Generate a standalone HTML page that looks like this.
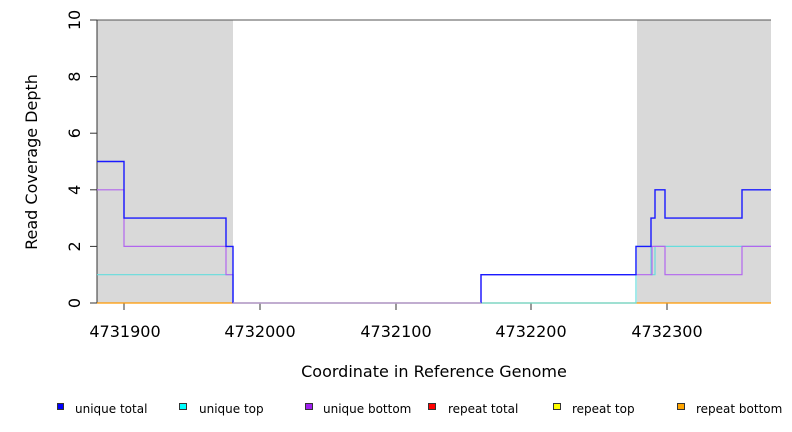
<!DOCTYPE html><html><head><style>body{margin:0;background:#fff}svg{display:block}text{font-family:"DejaVu Sans","Liberation Sans",sans-serif}</style></head><body>
<svg width="792" height="432" viewBox="0 0 792 432">
<rect x="97" y="20" width="136" height="283" fill="#d9d9d9"/>
<rect x="637" y="20" width="134" height="283" fill="#d9d9d9"/>
<line x1="97" y1="20" x2="771" y2="20" stroke="#555" stroke-width="1"/>
<line x1="97" y1="20" x2="97" y2="303" stroke="#333" stroke-width="1"/>
<g stroke="#333" stroke-width="1">
<line x1="90" y1="303" x2="97" y2="303"/><line x1="90" y1="246.4" x2="97" y2="246.4"/><line x1="90" y1="189.8" x2="97" y2="189.8"/><line x1="90" y1="133.2" x2="97" y2="133.2"/><line x1="90" y1="76.6" x2="97" y2="76.6"/><line x1="90" y1="20" x2="97" y2="20"/>
<line x1="124" y1="303" x2="124" y2="310"/><line x1="260" y1="303" x2="260" y2="310"/><line x1="396" y1="303" x2="396" y2="310"/><line x1="531" y1="303" x2="531" y2="310"/><line x1="667" y1="303" x2="667" y2="310"/>
</g>
<g font-size="16" text-anchor="middle">
<text transform="translate(75,303) rotate(-90)" y="5">0</text>
<text transform="translate(75,246.4) rotate(-90)" y="5">2</text>
<text transform="translate(75,189.8) rotate(-90)" y="5">4</text>
<text transform="translate(75,133.2) rotate(-90)" y="5">6</text>
<text transform="translate(75,76.6) rotate(-90)" y="5">8</text>
<text transform="translate(75,20) rotate(-90)" y="5">10</text>
<text x="125" y="337">4731900</text><text x="260" y="337">4732000</text><text x="396" y="337">4732100</text><text x="531" y="337">4732200</text><text x="667" y="337">4732300</text>
<text x="434" y="377">Coordinate in Reference Genome</text>
<text transform="translate(37,162) rotate(-90)">Read Coverage Depth</text>
</g>
<g fill="none" stroke-width="1.2">
<polyline stroke="#ff9900" points="97,303 771,303"/>
<polyline stroke="#66dddd" points="97,274.7 233,274.7 233,303 636,303 636,246.4 651,246.4 651,274.7 655,274.7 655,246.4 771,246.4"/>
<polyline stroke="#b266ee" points="97,189.8 124,189.8 124,246.4 226,246.4 226,274.7 233,274.7 233,303 481,303 481,274.7 652,274.7 652,246.4 665,246.4 665,274.7 742,274.7 742,246.4 771,246.4"/>
<polyline stroke="#1a1aff" stroke-width="1.4" points="97,161.5 124,161.5 124,218.1 226,218.1 226,246.4 233,246.4 233,303"/>
<polyline stroke="#1a1aff" stroke-width="1.4" points="481,303 481,274.7 636,274.7 636,246.4 651,246.4 651,218.1 655,218.1 655,189.8 665,189.8 665,218.1 742,218.1 742,189.8 771,189.8"/>
<polyline stroke="#b9a0d0" points="233,303 481,303"/>
</g>
<g font-size="12">
<rect x="57.5" y="403.5" width="6" height="6" fill="#0000ff" stroke="#333"/><text x="75" y="413">unique total</text>
<rect x="179.5" y="403.5" width="7" height="6" fill="#00ffff" stroke="#333"/><text x="199" y="413">unique top</text>
<rect x="305.5" y="403.5" width="7" height="6" fill="#a020f0" stroke="#333"/><text x="323" y="413">unique bottom</text>
<rect x="428.5" y="403.5" width="7" height="6" fill="#ff0000" stroke="#333"/><text x="448" y="413">repeat total</text>
<rect x="553.5" y="403.5" width="7" height="6" fill="#ffff00" stroke="#333"/><text x="572" y="413">repeat top</text>
<rect x="677.5" y="403.5" width="7" height="6" fill="#ffa500" stroke="#333"/><text x="696" y="413">repeat bottom</text>
</g>
</svg></body></html>
